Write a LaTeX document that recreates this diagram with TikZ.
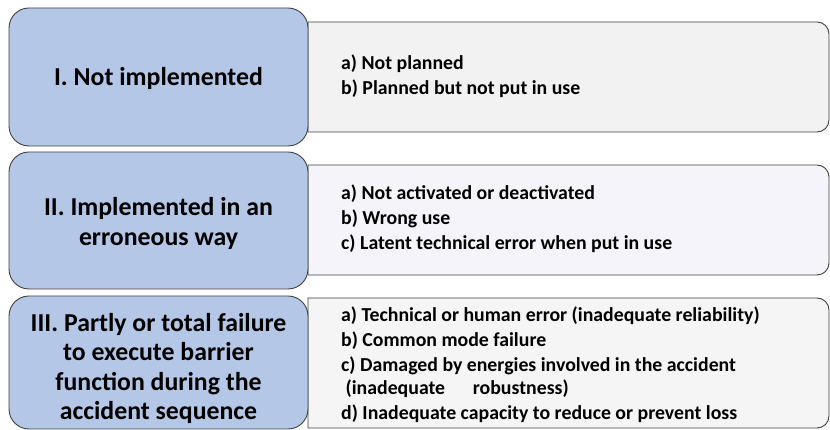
\documentclass[tikz,border=0pt]{standalone}
\usepackage{fontspec}
\setmainfont{Carlito}
\usetikzlibrary{positioning,calc}

\definecolor{failblue}{HTML}{B4C7E7}
\definecolor{listgray}{HTML}{F2F2F2}
\definecolor{listlilac}{HTML}{F4F4FA}
\definecolor{listpale}{HTML}{F5F5F5}
\definecolor{edgegray}{HTML}{404040}

\tikzset{
  category/.style={draw=edgegray, line width=0.9pt, fill=failblue, rounded corners=20pt, minimum width=299pt, align=center, font=\bfseries\fontsize{25.8}{29.5}\selectfont},
  causes/.style={anchor=west, align=left, inner sep=0pt, font=\bfseries\fontsize{19.8}{25}\selectfont},
  listbox/.style={draw=edgegray, line width=0.9pt}
}

\begin{document}
\begin{tikzpicture}[x=1pt, y=1pt]
  \def\xl{308}
  \def\xr{829}
  \def\rr{12}
  \useasboundingbox (0,0) rectangle (830,430);

  % grey lists on the right
  \draw[listbox, fill=listgray] (\xl,408) -- ({\xr-\rr},408) arc[start angle=90, end angle=0, radius=\rr] -- (\xr,{298+\rr}) arc[start angle=0, end angle=-90, radius=\rr] -- (\xl,298) -- cycle;
  \draw[listbox, fill=listlilac] (\xl,265) -- ({\xr-\rr},265) arc[start angle=90, end angle=0, radius=\rr] -- (\xr,{155+\rr}) arc[start angle=0, end angle=-90, radius=\rr] -- (\xl,155) -- cycle;
  \draw[listbox, fill=listpale] (\xl,132) -- ({\xr-\rr},132) arc[start angle=90, end angle=0, radius=\rr] -- (\xr,{2+\rr}) arc[start angle=0, end angle=-90, radius=\rr] -- (\xl,2) -- cycle;

  % blue categories
  \node[category, minimum height=138pt] (notimpl) at (158.5,353) {\rule{0pt}{22pt}I. Not implemented};
  \node[category, minimum height=137pt] (erroneous) at (158.5,209.5) {\rule{0pt}{24pt}II. Implemented in an\\erroneous way};
  \node[category, minimum height=133pt] (failure) at (158.5,67.5) {\rule{0pt}{30pt}III. Partly or total failure\\to execute barrier\\function during the\\accident sequence};

  \node[causes] (causesI) at (341,353.5) {a) Not planned\\b) Planned but not put in use};
  \node[causes] (causesII) at (341,211) {a) Not activated or deactivated\\b) Wrong use\\c) Latent technical error when put in use};
  \node[causes] (causesIII) at (341,65) {a) Technical or human error (inadequate reliability)\\b) Common mode failure\\c) Damaged by energies involved in the accident\\[-2pt]\ (inadequate\hspace{1.4em}robustness)\\d) Inadequate capacity to reduce or prevent loss};
\end{tikzpicture}
\end{document}
